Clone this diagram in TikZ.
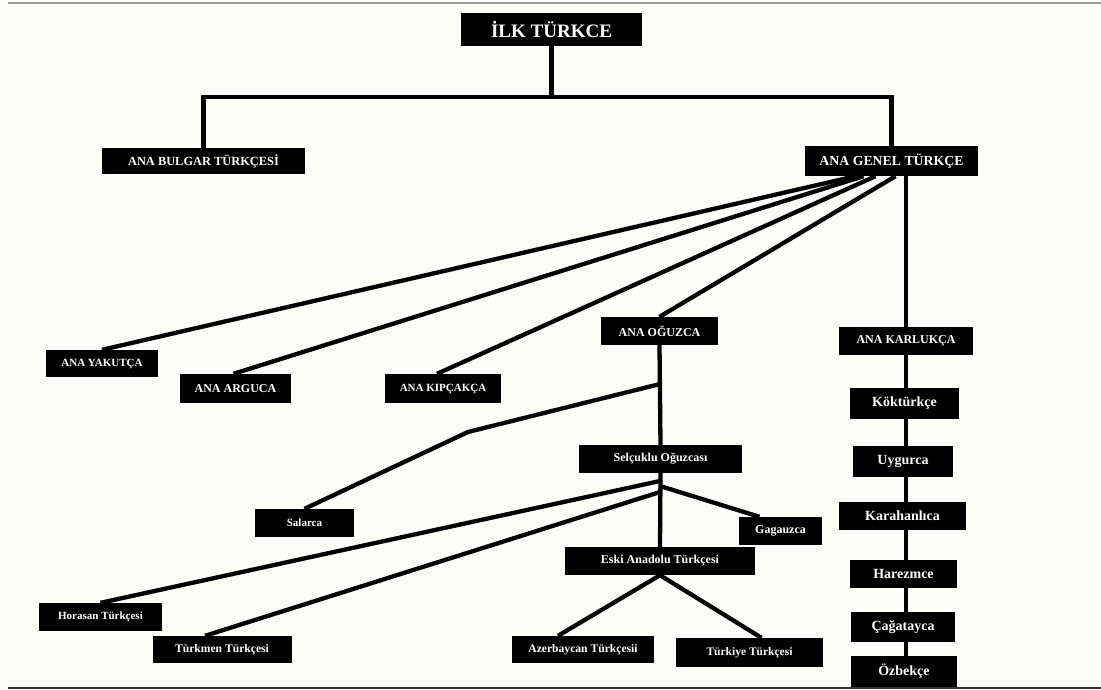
\documentclass[tikz,border=0pt]{standalone}
\usepackage{fontspec}
\setmainfont{Liberation Serif}
\usepackage{tikz}
\usetikzlibrary{calc}
\definecolor{paper}{HTML}{FDFDF8}
\tikzset{lang/.style={fill=black,text=white,inner sep=0pt,minimum height=28pt,font=\bfseries\fontsize{11}{11}\selectfont},
  mid/.style={font=\bfseries\fontsize{12}{12}\selectfont},
  big/.style={font=\bfseries\fontsize{14}{14}\selectfont},
  link/.style={line width=4.3pt}}

\begin{document}
\begin{tikzpicture}[x=1pt,y=-1pt]
  \useasboundingbox (0,0) rectangle (1101,689);
  \fill[paper] (0,0) rectangle (1101,689);
  \draw[line width=2pt,black!40] (8,3)--(1101,3);
  \draw[line width=2pt,black!80] (8,688)--(1101,688);

  \node[lang,minimum width=181pt,minimum height=33pt,font=\bfseries\fontsize{19}{19}\selectfont] (ilk) at (551.5,29.5) {İLK TÜRKCE};
  \node[lang,minimum width=203pt,minimum height=26pt,font=\bfseries\fontsize{12.4}{12.4}\selectfont] (bulgar) at (203.5,161) {ANA BULGAR TÜRKÇESİ};
  \node[lang,minimum width=173pt,minimum height=30pt,font=\bfseries\fontsize{13.8}{13.8}\selectfont] (genel) at (891.5,161) {ANA GENEL TÜRKÇE};

  \node[lang,minimum width=112pt,minimum height=27pt] (yakut) at (102,363.5) {ANA YAKUTÇA};
  \node[lang,mid,minimum width=111pt,minimum height=29pt] (argu) at (235.5,388.5) {ANA ARGUCA};
  \node[lang,minimum width=116pt,minimum height=29pt] (kipcak) at (443,388.5) {ANA KIPÇAKÇA};
  \node[lang,mid,minimum width=117pt] (oguz) at (659.5,331) {ANA OĞUZCA};
  \node[lang,mid,minimum width=134pt] (karluk) at (906,341) {ANA KARLUKÇA};

  \node[lang,mid,minimum width=163pt] (selcuk) at (660.5,459) {Selçuklu Oğuzcası};
  \node[lang,minimum width=99pt] (salar) at (304.5,523) {Salarca};
  \node[lang,mid,minimum width=83pt] (gagauz) at (780.5,531) {Gagauzca};
  \node[lang,mid,minimum width=190pt] (eski) at (660,561) {Eski Anadolu Türkçesi};
  \node[lang,minimum width=123pt] (horasan) at (100.5,617) {Horasan Türkçesi};
  \node[lang,minimum width=139pt,minimum height=27pt,font=\bfseries\fontsize{11.6}{11.6}\selectfont] (turkmen) at (222,649.5) {Türkmen Türkçesi};
  \node[lang,minimum width=142pt,minimum height=27pt,font=\bfseries\fontsize{11.6}{11.6}\selectfont] (azer) at (583,649.5) {Azerbaycan Türkçesii};
  \node[lang,minimum width=147pt,minimum height=29pt,font=\bfseries\fontsize{11.5}{11.5}\selectfont] (turkiye) at (749.5,652.5) {Türkiye Türkçesi};

  \node[lang,big,minimum width=109pt,minimum height=31pt] (kokturk) at (904.5,403.5) {Köktürkçe};
  \node[lang,big,minimum width=100pt,minimum height=31pt] (uygur) at (903,461.5) {Uygurca};
  \node[lang,big,minimum width=127pt] (karahan) at (902.5,516) {Karahanlıca};
  \node[lang,big,minimum width=107pt] (harezm) at (903.5,574) {Harezmce};
  \node[lang,big,minimum width=104pt,minimum height=30pt] (cagatay) at (903,627) {Çağatayca};
  \node[lang,big,minimum width=106pt,minimum height=31pt] (ozbek) at (904,671.5) {Özbekçe};

  \coordinate (bar) at (551.5,97);
  \coordinate (salarbend) at (468,432);
  \coordinate (salarjoin) at (660,384);
  \coordinate (horjoin) at (660,481);
  \coordinate (gagjoin) at (660,486);
  \coordinate (turjoin) at (660,492);

  \draw[link] (ilk.south) -- (bar);
  \draw[link] (bulgar.north) -- (bulgar.north |- bar) -- (genel.north |- bar) -- (genel.north);
  \draw[link] ([xshift=-36pt]genel.south) -- (yakut.north);
  \draw[link] ([xshift=-28pt]genel.south) -- ([xshift=-2pt]argu.north);
  \draw[link] ([xshift=-16pt]genel.south) -- ([xshift=-6pt]kipcak.north);
  \draw[link] ([xshift=4pt]genel.south) -- (oguz.north);
  \draw[link] (karluk.north) -- (karluk.north |- genel.south);
  \foreach \a/\b in {karluk/kokturk,kokturk/uygur,uygur/karahan,karahan/harezm,harezm/cagatay,cagatay/ozbek}
    \draw[link] (\a.south -| karluk) -- (\b.north -| karluk);

  \draw[link] (oguz.south) -- (selcuk.north);
  \draw[link] (salarjoin) -- (salarbend) -- (salar.north);
  \draw[link] (selcuk.south) -- (eski.north);
  \draw[link] (horjoin) -- (horasan.north);
  \draw[link] (turjoin) -- ([xshift=-17pt]turkmen.north);
  \draw[link] (gagjoin) -- ([xshift=-21pt]gagauz.north);
  \draw[link] (eski.south) -- ([xshift=-25pt]azer.north);
  \draw[link] (eski.south) -- ([xshift=12pt]turkiye.north);
\end{tikzpicture}
\end{document}
